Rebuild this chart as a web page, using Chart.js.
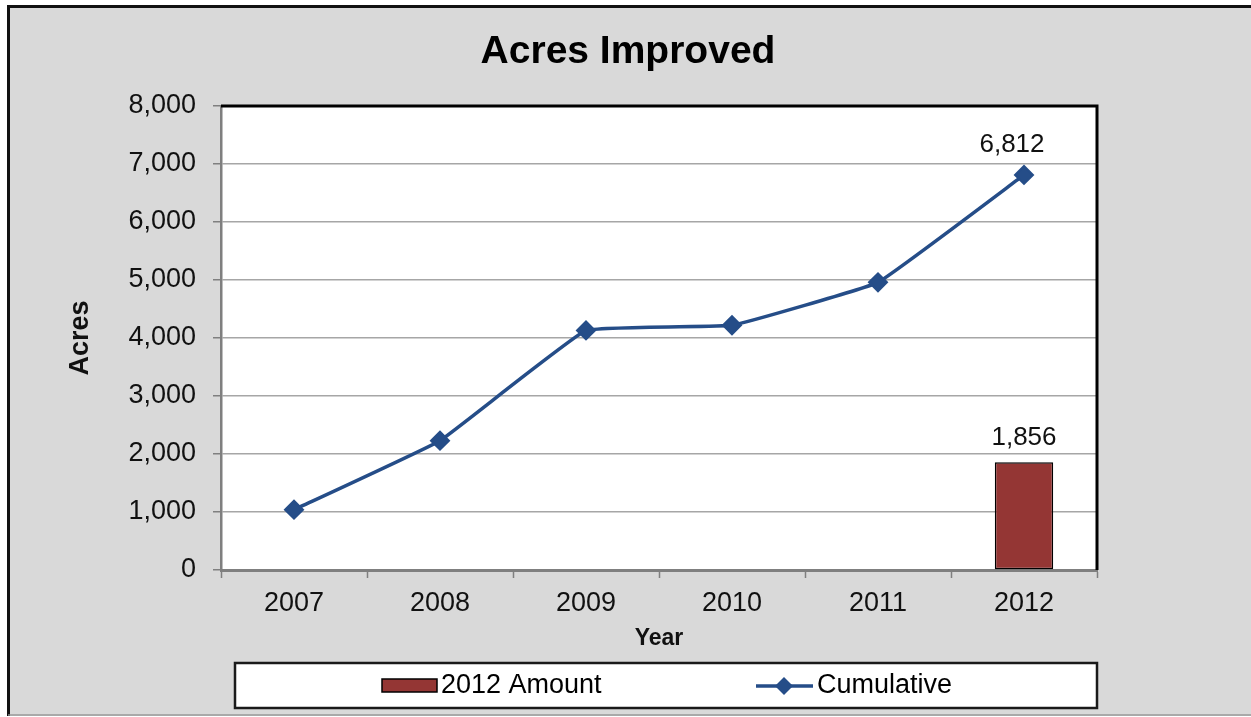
<!DOCTYPE html>
<html>
<head>
<meta charset="utf-8">
<script src="https://cdn.jsdelivr.net/npm/chart.js@4/dist/chart.umd.min.js"></script>
<style>
  html, body { margin: 0; padding: 0; background: #ffffff; }
  #wrap { width: 1251px; height: 717px; }
</style>
</head>
<body>
<div id="wrap"><canvas id="acresChart" width="1251" height="717"></canvas></div>
<script>
const years = ['2007', '2008', '2009', '2010', '2011', '2012'];
const cumulative = [1040, 2230, 4130, 4220, 4960, 6812];
const amount2012 = [null, null, null, null, null, 1856];
const yMax = 8000;
const yStep = 1000;

const FONT = '"Liberation Sans", Arial, sans-serif';
const LINE_BLUE = '#254d88';
const BAR_RED = '#943634';

const fmt = v => Number(v).toLocaleString('en-US');

// frame, gray panel, white plot area, title, value labels and the boxed legend
const decorations = {
  id: 'decorations',
  beforeDraw(chart) {
    const { ctx, chartArea: a } = chart;
    ctx.save();
    ctx.fillStyle = '#ffffff';
    ctx.fillRect(0, 0, chart.width, chart.height);
    ctx.fillStyle = '#d9d9d9';
    ctx.fillRect(8, 6, chart.width, 708);
    ctx.fillStyle = '#ffffff';
    ctx.fillRect(a.left, a.top, a.right - a.left, a.bottom - a.top);
    ctx.restore();
  },
  afterDraw(chart) {
    const { ctx, chartArea: a } = chart;
    ctx.save();

    // outer frame
    ctx.strokeStyle = '#111111';
    ctx.lineWidth = 3;
    ctx.beginPath();
    ctx.moveTo(8.5, 716);
    ctx.lineTo(8.5, 6.5);
    ctx.lineTo(chart.width + 2, 6.5);
    ctx.stroke();
    ctx.strokeStyle = '#8c8c8c';
    ctx.lineWidth = 1.5;
    ctx.beginPath();
    ctx.moveTo(8, 715);
    ctx.lineTo(chart.width, 715);
    ctx.stroke();

    // top and right edges of plot area
    ctx.strokeStyle = '#000000';
    ctx.lineWidth = 3;
    ctx.beginPath();
    ctx.moveTo(a.left, a.top);
    ctx.lineTo(a.right, a.top);
    ctx.lineTo(a.right, a.bottom);
    ctx.stroke();

    // title
    ctx.fillStyle = '#000000';
    ctx.font = 'bold 39px ' + FONT;
    ctx.textAlign = 'center';
    ctx.textBaseline = 'middle';
    ctx.fillText('Acres Improved', 628, 52);

    // value labels
    ctx.font = '26px ' + FONT;
    ctx.fillStyle = '#111111';
    ctx.textBaseline = 'alphabetic';
    const lineMeta = chart.getDatasetMeta(1);
    const lastIdx = cumulative.length - 1;
    const pt = lineMeta.data[lastIdx];
    ctx.fillText(fmt(cumulative[lastIdx]), pt.x - 12, pt.y - 23);
    const barMeta = chart.getDatasetMeta(0);
    amount2012.forEach((v, i) => {
      if (v == null) return;
      const bar = barMeta.data[i];
      ctx.fillText(fmt(v), bar.x, bar.y - 17);
    });

    // legend box
    ctx.fillStyle = '#ffffff';
    ctx.fillRect(235, 663, 862, 45);
    ctx.strokeStyle = '#1a1a1a';
    ctx.lineWidth = 2.5;
    ctx.strokeRect(235, 663, 862, 45);

    const ly = 686;
    const ds = chart.data.datasets;
    ctx.fillStyle = BAR_RED;
    ctx.fillRect(382, 679, 55, 13);
    ctx.strokeStyle = '#000000';
    ctx.lineWidth = 1.5;
    ctx.strokeRect(382, 679, 55, 13);
    ctx.fillStyle = '#000000';
    ctx.font = '27px ' + FONT;
    ctx.textAlign = 'left';
    ctx.textBaseline = 'middle';
    ctx.fillText(ds[0].label, 441, ly);

    ctx.strokeStyle = LINE_BLUE;
    ctx.lineWidth = 3.5;
    ctx.beginPath();
    ctx.moveTo(756, ly);
    ctx.lineTo(813, ly);
    ctx.stroke();
    ctx.fillStyle = LINE_BLUE;
    ctx.beginPath();
    ctx.moveTo(784, ly - 9);
    ctx.lineTo(793, ly);
    ctx.lineTo(784, ly + 9);
    ctx.lineTo(775, ly);
    ctx.closePath();
    ctx.fill();
    ctx.fillStyle = '#000000';
    ctx.fillText(ds[1].label, 817, ly);

    ctx.restore();
  }
};

const ctx = document.getElementById('acresChart').getContext('2d');

new Chart(ctx, {
  data: {
    labels: years,
    datasets: [
      {
        type: 'bar',
        label: '2012 Amount',
        data: amount2012,
        backgroundColor: BAR_RED,
        borderColor: '#000000',
        borderWidth: 1.5,
        borderSkipped: false,
        categoryPercentage: 1,
        barPercentage: 0.4,
        order: 2
      },
      {
        type: 'line',
        label: 'Cumulative',
        data: cumulative,
        borderColor: LINE_BLUE,
        backgroundColor: LINE_BLUE,
        borderWidth: 3.5,
        tension: 0.08,
        pointStyle: 'rectRot',
        pointRadius: 9,
        pointBorderWidth: 2,
        pointBorderColor: LINE_BLUE,
        pointBackgroundColor: LINE_BLUE,
        fill: false,
        order: 1
      }
    ]
  },
  options: {
    responsive: false,
    animation: false,
    layout: { padding: { top: 106, right: 154, bottom: 0, left: 0 } },
    plugins: {
      legend: { display: false },
      title: { display: false },
      tooltip: { enabled: false }
    },
    scales: {
      x: {
        offset: true,
        grid: {
          offset: true,
          drawOnChartArea: false,
          drawTicks: true,
          tickLength: 8,
          tickColor: '#7f7f7f',
          tickWidth: 1.5
        },
        border: { color: '#7f7f7f', width: 3 },
        ticks: {
          color: '#111111',
          padding: 9,
          font: { family: FONT, size: 27 }
        },
        title: {
          display: true,
          text: 'Year',
          color: '#111111',
          font: { family: FONT, size: 23, weight: 'bold' },
          padding: { top: 0, bottom: 65 }
        },
        afterFit(scale) { scale.height = 147; }
      },
      y: {
        min: 0,
        max: yMax,
        ticks: {
          stepSize: yStep,
          color: '#111111',
          padding: 17,
          font: { family: FONT, size: 27 },
          callback: v => fmt(v)
        },
        grid: {
          color: '#a6a6a6',
          lineWidth: 1.5,
          tickLength: 8,
          tickColor: '#7f7f7f'
        },
        border: { color: '#7f7f7f', width: 2.5 },
        title: {
          display: true,
          text: 'Acres',
          color: '#111111',
          font: { family: FONT, size: 27, weight: 'bold' },
          padding: { top: 64, bottom: 0 }
        },
        afterFit(scale) { scale.width = 221; }
      }
    }
  },
  plugins: [decorations]
});
</script>
</body>
</html>
